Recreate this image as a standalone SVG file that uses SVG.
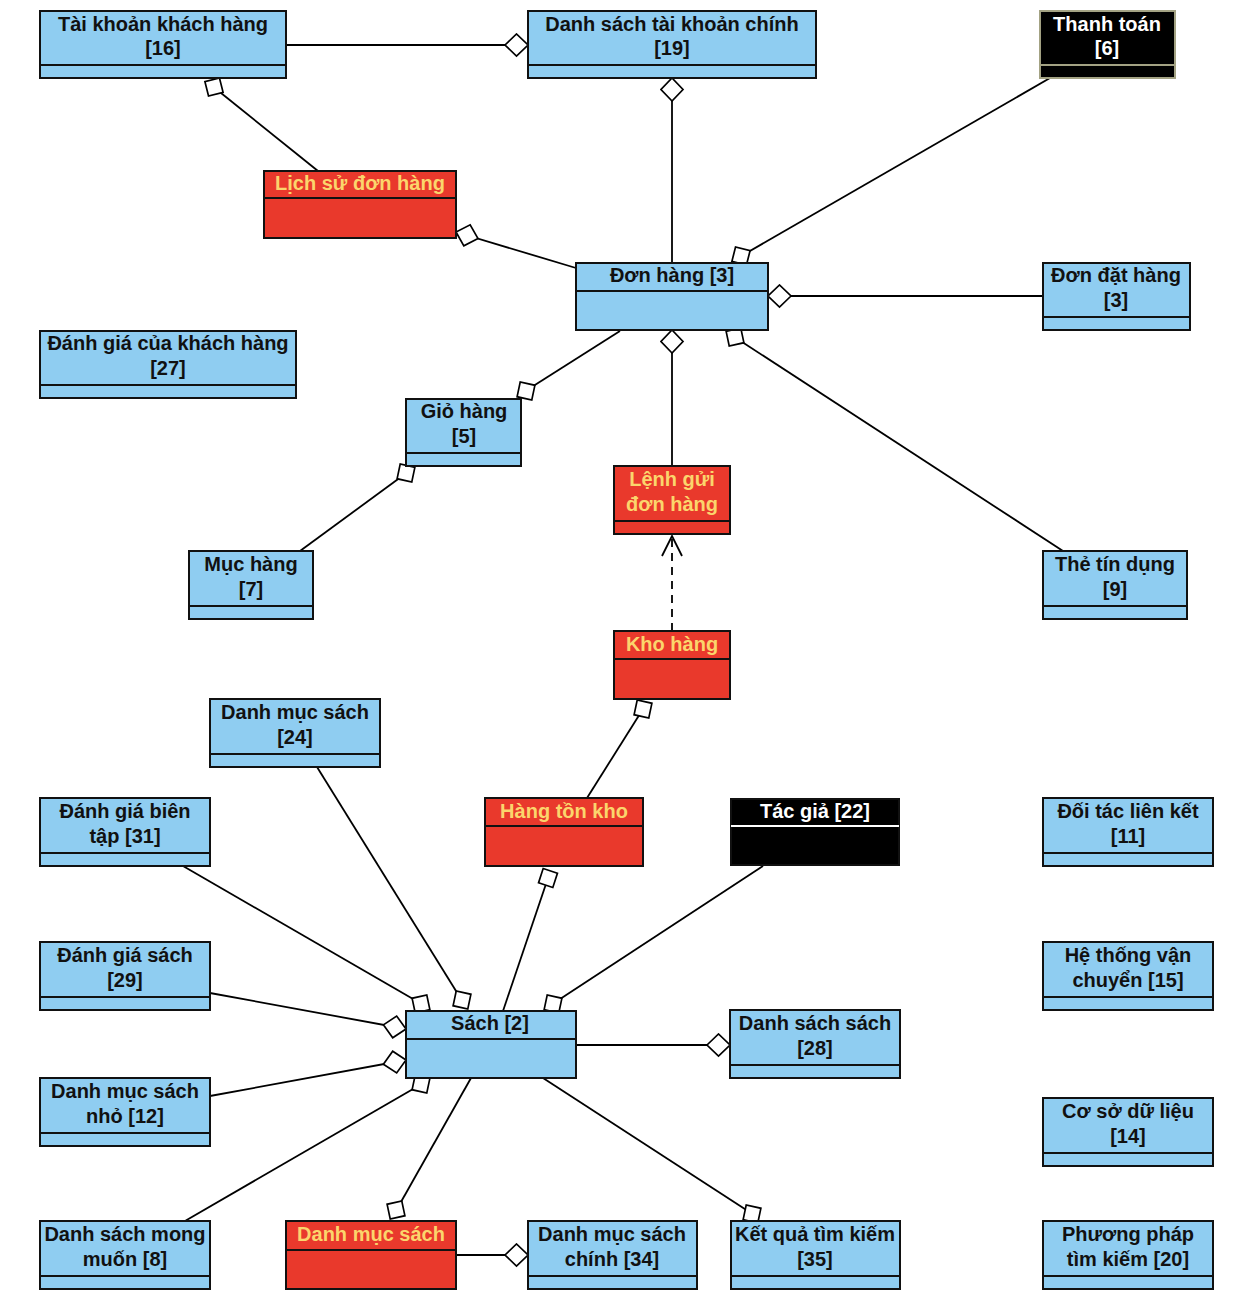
<svg xmlns="http://www.w3.org/2000/svg" xmlns:xlink="http://www.w3.org/1999/xlink" width="1238" height="1302" viewBox="0 0 1238 1302">
  <style>
    text { font-family: "Liberation Sans", Arial, "DejaVu Sans", sans-serif; font-weight: bold; font-size: 20px; text-anchor: middle; }
    .box { stroke: #111; stroke-width: 2; }
    .blue .box { fill: #8fcdf1; }
    .blue text { fill: #111; }
    .red .box { fill: #e9392c; }
    .red text { fill: #fbd56c; }
    .black .box { fill: #000; }
    .black text { fill: #fff; }
    .div { stroke: #111; stroke-width: 2; }
    .black .div { stroke: #fff; }
    .olive .box, .olive .div { stroke: #a3a283; }
    .edge { stroke: #000; stroke-width: 1.8; fill: none; }
    .dash { stroke-dasharray: 8 6; }
    .sq { fill: #fff; stroke: #000; stroke-width: 1.7; }
  </style>
  <defs>
    <marker id="diamond" markerUnits="userSpaceOnUse" viewBox="0 0 25 25" markerWidth="25" markerHeight="25" refX="24" refY="12.5" orient="auto">
      <path d="M1,12.5 L12.5,1.5 L24,12.5 L12.5,23.5 Z" fill="#fff" stroke="#000" stroke-width="1.7"/>
    </marker>
    <marker id="open" markerUnits="userSpaceOnUse" viewBox="0 0 22 22" markerWidth="22" markerHeight="22" refX="21" refY="11" orient="auto">
      <path d="M1,1 L21,11 L1,21" fill="none" stroke="#000" stroke-width="1.8"/>
    </marker>
    <rect id="sqm" x="-7.5" y="-7.5" width="15" height="15"/>
  </defs>

  <rect width="1238" height="1302" fill="#fff"/>

  <!-- connectors -->
  <g id="connectors">
    <line class="edge" x1="286" y1="45" x2="528" y2="45" marker-end="url(#diamond)"/>
    <line class="edge" x1="672" y1="263" x2="672" y2="78" marker-end="url(#diamond)"/>
    <line class="edge" x1="576" y1="268" x2="456" y2="232" marker-end="url(#diamond)"/>
    <line class="edge" x1="1043" y1="296" x2="768" y2="296" marker-end="url(#diamond)"/>
    <line class="edge" x1="672" y1="466" x2="672" y2="330" marker-end="url(#diamond)"/>
    <line class="edge" x1="210" y1="993" x2="406" y2="1029" marker-end="url(#diamond)"/>
    <line class="edge" x1="210" y1="1096" x2="406" y2="1060" marker-end="url(#diamond)"/>
    <line class="edge" x1="576" y1="1045" x2="730" y2="1045" marker-end="url(#diamond)"/>
    <line class="edge" x1="456" y1="1255" x2="528" y2="1255" marker-end="url(#diamond)"/>
    <line class="edge dash" x1="672" y1="631" x2="672" y2="536" marker-end="url(#open)"/>

    <line class="edge" x1="318" y1="171" x2="216" y2="89"/>
    <line class="edge" x1="1050" y1="78" x2="743" y2="255"/>
    <line class="edge" x1="1063" y1="551" x2="736" y2="338"/>
    <line class="edge" x1="620" y1="331" x2="527" y2="390"/>
    <line class="edge" x1="300" y1="551" x2="405" y2="474"/>
    <line class="edge" x1="587" y1="798" x2="643" y2="709"/>
    <line class="edge" x1="317" y1="767" x2="461" y2="999"/>
    <line class="edge" x1="183" y1="866" x2="420" y2="1003"/>
    <line class="edge" x1="503" y1="1011" x2="548" y2="878"/>
    <line class="edge" x1="763" y1="866" x2="554" y2="1003"/>
    <line class="edge" x1="185" y1="1221" x2="420" y2="1085"/>
    <line class="edge" x1="471" y1="1078" x2="397" y2="1209"/>
    <line class="edge" x1="543" y1="1078" x2="751" y2="1213"/>

    <use xlink:href="#sqm" class="sq" transform="translate(214,87) rotate(-14)"/>
    <use xlink:href="#sqm" class="sq" transform="translate(741,256) rotate(14)"/>
    <use xlink:href="#sqm" class="sq" transform="translate(735,337) rotate(-12)"/>
    <use xlink:href="#sqm" class="sq" transform="translate(526,391) rotate(12)"/>
    <use xlink:href="#sqm" class="sq" transform="translate(406,473) rotate(12)"/>
    <use xlink:href="#sqm" class="sq" transform="translate(643,709) rotate(12)"/>
    <use xlink:href="#sqm" class="sq" transform="translate(548,878) rotate(18)"/>
    <use xlink:href="#sqm" class="sq" transform="translate(421,1004) rotate(-12)"/>
    <use xlink:href="#sqm" class="sq" transform="translate(462,1000) rotate(12)"/>
    <use xlink:href="#sqm" class="sq" transform="translate(553,1004) rotate(12)"/>
    <use xlink:href="#sqm" class="sq" transform="translate(421,1084) rotate(12)"/>
    <use xlink:href="#sqm" class="sq" transform="translate(396,1210) rotate(-12)"/>
    <use xlink:href="#sqm" class="sq" transform="translate(752,1214) rotate(12)"/>
  </g>

  <!-- nodes -->
  <g id="tai-khoan-khach-hang" class="blue">
    <rect class="box" x="40" y="11" width="246" height="67"/>
    <line class="div" x1="40" y1="65" x2="286" y2="65"/>
    <text x="163" y="31">Tài khoản khách hàng</text>
    <text x="163" y="55">[16]</text>
  </g>
  <g id="danh-sach-tai-khoan-chinh" class="blue">
    <rect class="box" x="528" y="11" width="288" height="67"/>
    <line class="div" x1="528" y1="65" x2="816" y2="65"/>
    <text x="672" y="31">Danh sách tài khoản chính</text>
    <text x="672" y="55">[19]</text>
  </g>
  <g id="thanh-toan" class="black olive">
    <rect class="box" x="1040" y="11" width="135" height="67"/>
    <line class="div" x1="1040" y1="65" x2="1175" y2="65"/>
    <text x="1107" y="31">Thanh toán</text>
    <text x="1107" y="55">[6]</text>
  </g>
  <g id="lich-su-don-hang" class="red">
    <rect class="box" x="264" y="171" width="192" height="67"/>
    <line class="div" x1="264" y1="198" x2="456" y2="198"/>
    <text x="360" y="190">Lịch sử đơn hàng</text>
  </g>
  <g id="don-hang" class="blue">
    <rect class="box" x="576" y="263" width="192" height="67"/>
    <line class="div" x1="576" y1="291" x2="768" y2="291"/>
    <text x="672" y="282">Đơn hàng [3]</text>
  </g>
  <g id="don-dat-hang" class="blue">
    <rect class="box" x="1043" y="263" width="147" height="67"/>
    <line class="div" x1="1043" y1="317" x2="1190" y2="317"/>
    <text x="1116" y="282">Đơn đặt hàng</text>
    <text x="1116" y="307">[3]</text>
  </g>
  <g id="danh-gia-khach-hang" class="blue">
    <rect class="box" x="40" y="331" width="256" height="67"/>
    <line class="div" x1="40" y1="385" x2="296" y2="385"/>
    <text x="168" y="350">Đánh giá của khách hàng</text>
    <text x="168" y="375">[27]</text>
  </g>
  <g id="gio-hang" class="blue">
    <rect class="box" x="406" y="399" width="115" height="67"/>
    <line class="div" x1="406" y1="453" x2="521" y2="453"/>
    <text x="464" y="418">Giỏ hàng</text>
    <text x="464" y="443">[5]</text>
  </g>
  <g id="lenh-gui-don-hang" class="red">
    <rect class="box" x="614" y="466" width="116" height="68"/>
    <line class="div" x1="614" y1="521" x2="730" y2="521"/>
    <text x="672" y="486">Lệnh gửi</text>
    <text x="672" y="511">đơn hàng</text>
  </g>
  <g id="muc-hang" class="blue">
    <rect class="box" x="189" y="551" width="124" height="68"/>
    <line class="div" x1="189" y1="606" x2="313" y2="606"/>
    <text x="251" y="571">Mục hàng</text>
    <text x="251" y="596">[7]</text>
  </g>
  <g id="the-tin-dung" class="blue">
    <rect class="box" x="1043" y="551" width="144" height="68"/>
    <line class="div" x1="1043" y1="606" x2="1187" y2="606"/>
    <text x="1115" y="571">Thẻ tín dụng</text>
    <text x="1115" y="596">[9]</text>
  </g>
  <g id="kho-hang" class="red">
    <rect class="box" x="614" y="631" width="116" height="68"/>
    <line class="div" x1="614" y1="659" x2="730" y2="659"/>
    <text x="672" y="651">Kho hàng</text>
  </g>
  <g id="danh-muc-sach-24" class="blue">
    <rect class="box" x="210" y="699" width="170" height="68"/>
    <line class="div" x1="210" y1="754" x2="380" y2="754"/>
    <text x="295" y="719">Danh mục sách</text>
    <text x="295" y="744">[24]</text>
  </g>
  <g id="danh-gia-bien-tap" class="blue">
    <rect class="box" x="40" y="798" width="170" height="68"/>
    <line class="div" x1="40" y1="853" x2="210" y2="853"/>
    <text x="125" y="818">Đánh giá biên</text>
    <text x="125" y="843">tập [31]</text>
  </g>
  <g id="hang-ton-kho" class="red">
    <rect class="box" x="485" y="798" width="158" height="68"/>
    <line class="div" x1="485" y1="826" x2="643" y2="826"/>
    <text x="564" y="818">Hàng tồn kho</text>
  </g>
  <g id="tac-gia" class="black">
    <rect class="box" x="731" y="799" width="168" height="66" stroke="#777" stroke-width="1"/>
    <line class="div" x1="731" y1="826" x2="899" y2="826"/>
    <text x="815" y="818">Tác giả [22]</text>
  </g>
  <g id="doi-tac-lien-ket" class="blue">
    <rect class="box" x="1043" y="798" width="170" height="68"/>
    <line class="div" x1="1043" y1="853" x2="1213" y2="853"/>
    <text x="1128" y="818">Đối tác liên kết</text>
    <text x="1128" y="843">[11]</text>
  </g>
  <g id="danh-gia-sach" class="blue">
    <rect class="box" x="40" y="942" width="170" height="68"/>
    <line class="div" x1="40" y1="997" x2="210" y2="997"/>
    <text x="125" y="962">Đánh giá sách</text>
    <text x="125" y="987">[29]</text>
  </g>
  <g id="he-thong-van-chuyen" class="blue">
    <rect class="box" x="1043" y="942" width="170" height="68"/>
    <line class="div" x1="1043" y1="997" x2="1213" y2="997"/>
    <text x="1128" y="962">Hệ thống vận</text>
    <text x="1128" y="987">chuyển [15]</text>
  </g>
  <g id="sach" class="blue">
    <rect class="box" x="406" y="1011" width="170" height="67"/>
    <line class="div" x1="406" y1="1039" x2="576" y2="1039"/>
    <text x="490" y="1030">Sách [2]</text>
  </g>
  <g id="danh-sach-sach" class="blue">
    <rect class="box" x="730" y="1010" width="170" height="68"/>
    <line class="div" x1="730" y1="1065" x2="900" y2="1065"/>
    <text x="815" y="1030">Danh sách sách</text>
    <text x="815" y="1055">[28]</text>
  </g>
  <g id="danh-muc-sach-nho" class="blue">
    <rect class="box" x="40" y="1078" width="170" height="68"/>
    <line class="div" x1="40" y1="1133" x2="210" y2="1133"/>
    <text x="125" y="1098">Danh mục sách</text>
    <text x="125" y="1123">nhỏ [12]</text>
  </g>
  <g id="co-so-du-lieu" class="blue">
    <rect class="box" x="1043" y="1098" width="170" height="68"/>
    <line class="div" x1="1043" y1="1153" x2="1213" y2="1153"/>
    <text x="1128" y="1118">Cơ sở dữ liệu</text>
    <text x="1128" y="1143">[14]</text>
  </g>
  <g id="danh-sach-mong-muon" class="blue">
    <rect class="box" x="40" y="1221" width="170" height="68"/>
    <line class="div" x1="40" y1="1276" x2="210" y2="1276"/>
    <text x="125" y="1241">Danh sách mong</text>
    <text x="125" y="1266">muốn [8]</text>
  </g>
  <g id="danh-muc-sach" class="red">
    <rect class="box" x="286" y="1221" width="170" height="68"/>
    <line class="div" x1="286" y1="1250" x2="456" y2="1250"/>
    <text x="371" y="1241">Danh mục sách</text>
  </g>
  <g id="danh-muc-sach-chinh" class="blue">
    <rect class="box" x="528" y="1221" width="169" height="68"/>
    <line class="div" x1="528" y1="1276" x2="697" y2="1276"/>
    <text x="612" y="1241">Danh mục sách</text>
    <text x="612" y="1266">chính [34]</text>
  </g>
  <g id="ket-qua-tim-kiem" class="blue">
    <rect class="box" x="731" y="1221" width="169" height="68"/>
    <line class="div" x1="731" y1="1276" x2="900" y2="1276"/>
    <text x="815" y="1241">Kết quả tìm kiếm</text>
    <text x="815" y="1266">[35]</text>
  </g>
  <g id="phuong-phap-tim-kiem" class="blue">
    <rect class="box" x="1043" y="1221" width="170" height="68"/>
    <line class="div" x1="1043" y1="1276" x2="1213" y2="1276"/>
    <text x="1128" y="1241">Phương pháp</text>
    <text x="1128" y="1266">tìm kiếm [20]</text>
  </g>
</svg>
